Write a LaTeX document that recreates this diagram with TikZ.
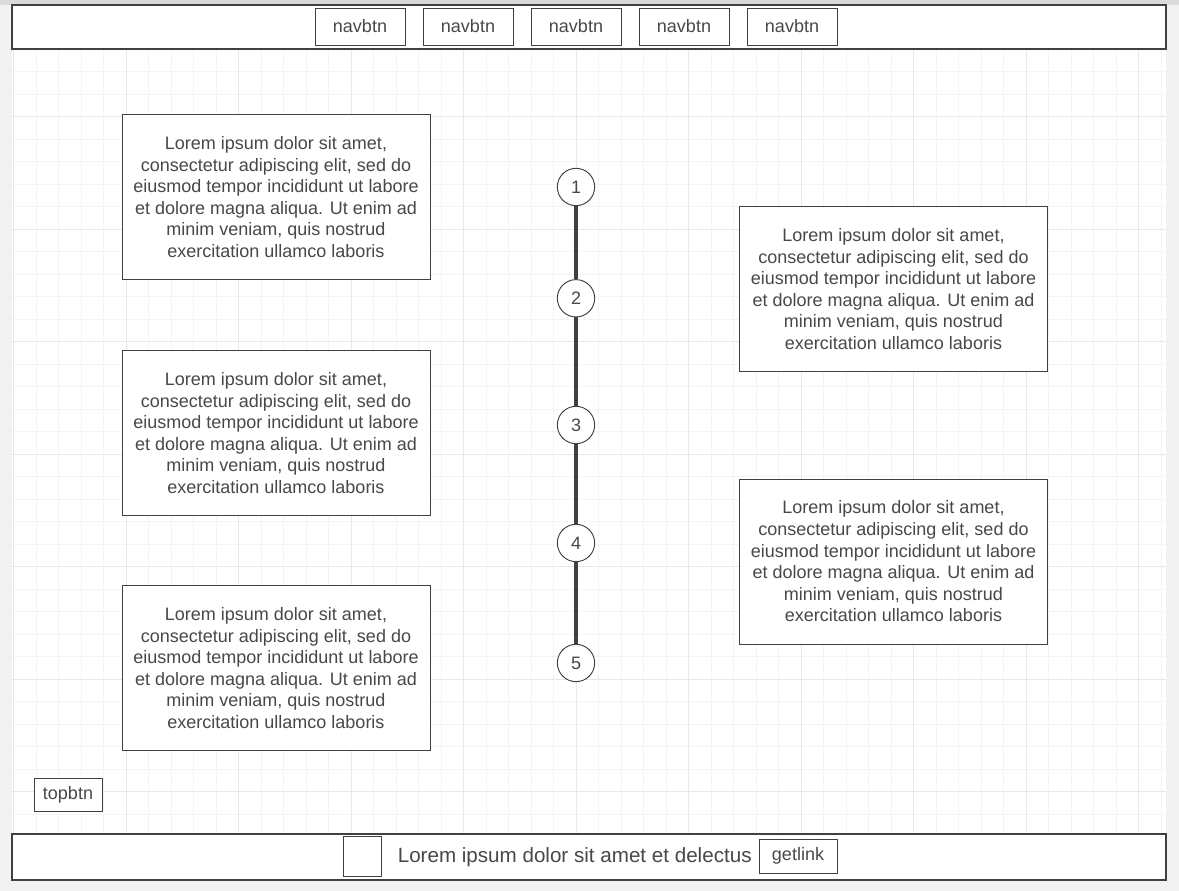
\documentclass[tikz,border=0pt]{standalone}
\usepackage{fontspec}
\setmainfont{Liberation Sans}
\definecolor{strokegray}{RGB}{64,64,64}
\definecolor{txtgray}{RGB}{72,72,72}
\definecolor{bggray}{RGB}{242,242,242}
\definecolor{topgray}{RGB}{218,218,218}
\definecolor{gridminor}{RGB}{244,244,244}
\definecolor{gridmajor}{RGB}{232,232,232}
\newcommand{\loremlines}{Lorem ipsum dolor sit amet,\\consectetur adipiscing elit, sed do\\eiusmod tempor incididunt ut labore\\et dolore magna aliqua. Ut enim ad\\minim veniam, quis nostrud\\exercitation ullamco laboris}
\begin{document}
\begin{tikzpicture}[x=0.75pt,y=0.75pt,yscale=-1,xscale=1,
  frame/.style={draw=strokegray, line width=1pt, fill=white},
  btnbox/.style={draw=strokegray, line width=0.7pt, fill=white, text=txtgray, inner sep=0pt, font=\fontsize{13.5}{16}\selectfont},
  loremcard/.style={draw=strokegray, line width=0.7pt, fill=white, text=txtgray, align=center, inner sep=0pt, minimum width=231pt, minimum height=123.75pt, font=\fontsize{13.5}{16.2}\selectfont},
  stepcircle/.style={circle, draw=strokegray, line width=0.7pt, fill=white, text=txtgray, inner sep=0pt, minimum size=28pt, font=\fontsize{13.5}{16}\selectfont},
  timeline/.style={draw=strokegray, line width=2.3pt}]
\useasboundingbox (0,0) rectangle (1179,891);

%Shape: Background
\fill[bggray] (0,0) rectangle (1179,891);
\fill[topgray] (0,0) rectangle (1179,5);
\fill[white] (12,5) rectangle (1166,880);

%Shape: Grid
\begin{scope}
\clip (12,5) rectangle (1166,880);
\foreach \k in {0,...,51} \draw[gridminor, line width=0.75pt] ({13.5+22.5*\k},5) -- ({13.5+22.5*\k},880);
\foreach \k in {0,...,39} \draw[gridminor, line width=0.75pt] (12,{4.3+22.5*\k}) -- (1166,{4.3+22.5*\k});
\foreach \k in {0,...,10} \draw[gridmajor, line width=0.75pt] ({13.5+112.5*\k},5) -- ({13.5+112.5*\k},880);
\foreach \k in {0,...,7} \draw[gridmajor, line width=0.75pt] (12,{4.3+112.5*\k}) -- (1166,{4.3+112.5*\k});
\end{scope}

%Shape: Rectangle (header)
\draw[frame] (12,5) rectangle (1166,49);
%Shape: Rectangle (footer)
\draw[frame] (12,834) rectangle (1166,880);

% Nav buttons
\foreach \i in {0,...,4}
  \node[btnbox, minimum width=67.5pt, minimum height=27.75pt] (nav\i) at ({360+108*\i},26.5) {navbtn};

% Text Nodes
\node[loremcard] (cardA) at (276,197) {\loremlines};
\node[loremcard] (cardB) at (276,433) {\loremlines};
\node[loremcard] (cardC) at (276,668) {\loremlines};
\node[loremcard] (cardD) at (893.5,289) {\loremlines};
\node[loremcard] (cardE) at (893.5,561.5) {\loremlines};

% Timeline
\node[stepcircle] (s1) at (576,187) {1};
\node[stepcircle] (s2) at (576,298.3) {2};
\node[stepcircle] (s3) at (576,425) {3};
\node[stepcircle] (s4) at (576,543) {4};
\node[stepcircle] (s5) at (576,663) {5};
\foreach \a/\b in {s1/s2,s2/s3,s3/s4,s4/s5}
  \draw[timeline] (\a) -- (\b);

% Top button
\node[btnbox, minimum width=51pt, minimum height=24.75pt] (topbtn) at (68,794.5) {topbtn};

% Footer
\node[btnbox, minimum width=28.5pt, minimum height=30pt] (logo) at (362,856.3) {};
\node[text=txtgray, inner sep=0pt, font=\fontsize{15.45}{18}\selectfont] (foottext) at (574.7,857) {Lorem ipsum dolor sit amet et delectus};
\node[btnbox, minimum width=58.5pt, minimum height=25.5pt] (getlink) at (798,856.3) {getlink};

\end{tikzpicture}
\end{document}
